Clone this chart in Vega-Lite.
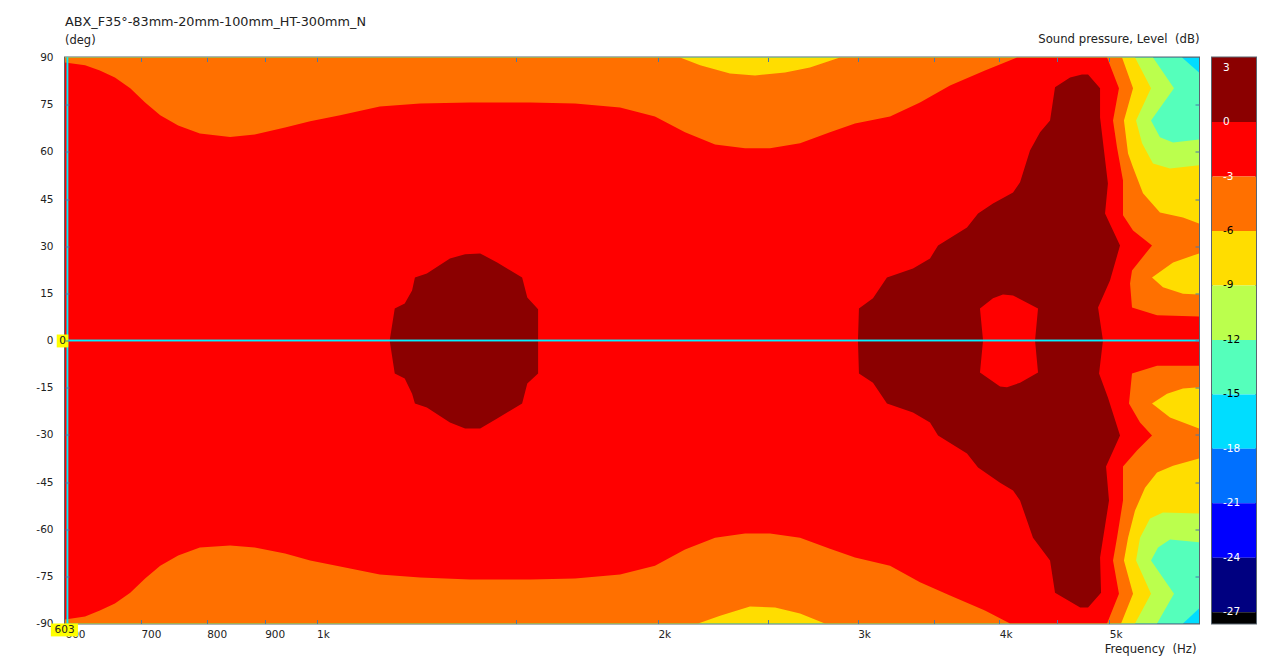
{"$schema":"https://vega.github.io/schema/vega-lite/v6.json","background":"white","padding":{"left":34,"top":14.5,"right":5,"bottom":5},"bounds":"flush","spacing":13,"config":{"view":{"stroke":"#5a6670","strokeWidth":2},"font":"DejaVu Sans","axis":{"labelFont":"DejaVu Sans","labelFontSize":10.5,"labelColor":"#222","titleFont":"DejaVu Sans","titleFontSize":11.7,"titleFontWeight":"normal","titleColor":"#222","grid":false,"domain":false,"tickColor":"#4a78a8"},"title":{"font":"DejaVu Sans","subtitleFont":"DejaVu Sans"}},
"datasets":{"poly":[
{"g":"p18","band":"-18","i":1,"f":600,"d":90},{"g":"p18","band":"-18","i":2,"f":6000,"d":90},{"g":"p18","band":"-18","i":3,"f":6000,"d":-90},{"g":"p18","band":"-18","i":4,"f":600,"d":-90},
{"g":"p15","band":"-15","i":1,"f":600,"d":90},{"g":"p15","band":"-15","i":2,"f":5797,"d":90},{"g":"p15","band":"-15","i":3,"f":6000,"d":85.2},{"g":"p15","band":"-15","i":4,"f":6000,"d":-85.2},{"g":"p15","band":"-15","i":5,"f":5808,"d":-90},{"g":"p15","band":"-15","i":6,"f":600,"d":-90},
{"g":"p12","band":"-12","i":1,"f":600,"d":90},{"g":"p12","band":"-12","i":2,"f":5465,"d":90},{"g":"p12","band":"-12","i":3,"f":5703,"d":80.2},{"g":"p12","band":"-12","i":4,"f":5443,"d":70},{"g":"p12","band":"-12","i":5,"f":5543,"d":64.6},{"g":"p12","band":"-12","i":6,"f":5692,"d":63},{"g":"p12","band":"-12","i":7,"f":6000,"d":63.9},{"g":"p12","band":"-12","i":8,"f":6000,"d":-64.2},{"g":"p12","band":"-12","i":9,"f":5657,"d":-63.3},{"g":"p12","band":"-12","i":10,"f":5521,"d":-65.8},{"g":"p12","band":"-12","i":11,"f":5443,"d":-70},{"g":"p12","band":"-12","i":12,"f":5703,"d":-80.5},{"g":"p12","band":"-12","i":13,"f":5510,"d":-90},{"g":"p12","band":"-12","i":14,"f":600,"d":-90},
{"g":"p9","band":"-9","i":1,"f":600,"d":90},{"g":"p9","band":"-9","i":2,"f":5269,"d":90},{"g":"p9","band":"-9","i":3,"f":5443,"d":80.2},{"g":"p9","band":"-9","i":4,"f":5280,"d":70},{"g":"p9","band":"-9","i":5,"f":5345,"d":62.7},{"g":"p9","band":"-9","i":6,"f":5465,"d":56.3},{"g":"p9","band":"-9","i":7,"f":5657,"d":54.7},{"g":"p9","band":"-9","i":8,"f":6000,"d":55.7},{"g":"p9","band":"-9","i":9,"f":6000,"d":-55},{"g":"p9","band":"-9","i":10,"f":5577,"d":-54.7},{"g":"p9","band":"-9","i":11,"f":5432,"d":-56.6},{"g":"p9","band":"-9","i":12,"f":5323,"d":-62.7},{"g":"p9","band":"-9","i":13,"f":5280,"d":-70},{"g":"p9","band":"-9","i":14,"f":5443,"d":-80.5},{"g":"p9","band":"-9","i":15,"f":5269,"d":-90},{"g":"p9","band":"-9","i":16,"f":600,"d":-90},
{"g":"p6","band":"-6","i":1,"f":600,"d":90},{"g":"p6","band":"-6","i":2,"f":2092,"d":90},{"g":"p6","band":"-6","i":3,"f":2179,"d":87.5},{"g":"p6","band":"-6","i":4,"f":2315,"d":84.9},{"g":"p6","band":"-6","i":5,"f":2436,"d":84.3},{"g":"p6","band":"-6","i":6,"f":2589,"d":85.2},{"g":"p6","band":"-6","i":7,"f":2723,"d":86.8},{"g":"p6","band":"-6","i":8,"f":2894,"d":90},{"g":"p6","band":"-6","i":9,"f":5132,"d":90},{"g":"p6","band":"-6","i":10,"f":5248,"d":80.2},{"g":"p6","band":"-6","i":11,"f":5152,"d":70},{"g":"p6","band":"-6","i":12,"f":5195,"d":59.5},{"g":"p6","band":"-6","i":13,"f":5248,"d":55},{"g":"p6","band":"-6","i":14,"f":5355,"d":46.8},{"g":"p6","band":"-6","i":15,"f":5543,"d":40.7},{"g":"p6","band":"-6","i":16,"f":5808,"d":39.1},{"g":"p6","band":"-6","i":17,"f":6000,"d":37.2},{"g":"p6","band":"-6","i":18,"f":6000,"d":27.7},{"g":"p6","band":"-6","i":19,"f":5692,"d":24.8},{"g":"p6","band":"-6","i":20,"f":5454,"d":20},{"g":"p6","band":"-6","i":21,"f":5577,"d":16.9},{"g":"p6","band":"-6","i":22,"f":5808,"d":14.9},{"g":"p6","band":"-6","i":23,"f":6000,"d":14.6},{"g":"p6","band":"-6","i":24,"f":6000,"d":-14.9},{"g":"p6","band":"-6","i":25,"f":5808,"d":-15.3},{"g":"p6","band":"-6","i":26,"f":5623,"d":-16.9},{"g":"p6","band":"-6","i":27,"f":5454,"d":-20},{"g":"p6","band":"-6","i":28,"f":5657,"d":-24.5},{"g":"p6","band":"-6","i":29,"f":6000,"d":-28},{"g":"p6","band":"-6","i":30,"f":6000,"d":-37.5},{"g":"p6","band":"-6","i":31,"f":5692,"d":-39.8},{"g":"p6","band":"-6","i":32,"f":5510,"d":-42},{"g":"p6","band":"-6","i":33,"f":5377,"d":-46.8},{"g":"p6","band":"-6","i":34,"f":5269,"d":-54.1},{"g":"p6","band":"-6","i":35,"f":5195,"d":-62.7},{"g":"p6","band":"-6","i":36,"f":5152,"d":-70},{"g":"p6","band":"-6","i":37,"f":5248,"d":-80.5},{"g":"p6","band":"-6","i":38,"f":5122,"d":-90},{"g":"p6","band":"-6","i":39,"f":2807,"d":-90},{"g":"p6","band":"-6","i":40,"f":2669,"d":-86.8},{"g":"p6","band":"-6","i":41,"f":2537,"d":-84.9},{"g":"p6","band":"-6","i":42,"f":2411,"d":-84.6},{"g":"p6","band":"-6","i":43,"f":2269,"d":-87.5},{"g":"p6","band":"-6","i":44,"f":2170,"d":-90},{"g":"p6","band":"-6","i":45,"f":600,"d":-90},
{"g":"p3","band":"-3","i":1,"f":600,"d":88.4},{"g":"p3","band":"-3","i":2,"f":625,"d":87.5},{"g":"p3","band":"-3","i":3,"f":644,"d":85.9},{"g":"p3","band":"-3","i":4,"f":664,"d":83.6},{"g":"p3","band":"-3","i":5,"f":685,"d":80.2},{"g":"p3","band":"-3","i":6,"f":706,"d":75.7},{"g":"p3","band":"-3","i":7,"f":728,"d":71.6},{"g":"p3","band":"-3","i":8,"f":755,"d":68.4},{"g":"p3","band":"-3","i":9,"f":789,"d":65.8},{"g":"p3","band":"-3","i":10,"f":839,"d":64.7},{"g":"p3","band":"-3","i":11,"f":882,"d":65.5},{"g":"p3","band":"-3","i":12,"f":938,"d":67.7},{"g":"p3","band":"-3","i":13,"f":987,"d":69.7},{"g":"p3","band":"-3","i":14,"f":1049,"d":71.6},{"g":"p3","band":"-3","i":15,"f":1137,"d":74.4},{"g":"p3","band":"-3","i":16,"f":1234,"d":75.4},{"g":"p3","band":"-3","i":17,"f":1366,"d":75.7},{"g":"p3","band":"-3","i":18,"f":1543,"d":75.7},{"g":"p3","band":"-3","i":19,"f":1690,"d":75.4},{"g":"p3","band":"-3","i":20,"f":1852,"d":74.1},{"g":"p3","band":"-3","i":21,"f":1988,"d":71.2},{"g":"p3","band":"-3","i":22,"f":2113,"d":66.2},{"g":"p3","band":"-3","i":23,"f":2246,"d":62.3},{"g":"p3","band":"-3","i":24,"f":2387,"d":61.1},{"g":"p3","band":"-3","i":25,"f":2511,"d":61.1},{"g":"p3","band":"-3","i":26,"f":2669,"d":62.7},{"g":"p3","band":"-3","i":27,"f":2836,"d":66.2},{"g":"p3","band":"-3","i":28,"f":2984,"d":69},{"g":"p3","band":"-3","i":29,"f":3204,"d":71.2},{"g":"p3","band":"-3","i":30,"f":3405,"d":75.7},{"g":"p3","band":"-3","i":31,"f":3619,"d":81.1},{"g":"p3","band":"-3","i":32,"f":3885,"d":85.9},{"g":"p3","band":"-3","i":33,"f":4147,"d":90},{"g":"p3","band":"-3","i":34,"f":4978,"d":90},{"g":"p3","band":"-3","i":35,"f":5100,"d":80.2},{"g":"p3","band":"-3","i":36,"f":5039,"d":70},{"g":"p3","band":"-3","i":37,"f":5080,"d":61.4},{"g":"p3","band":"-3","i":38,"f":5142,"d":50.9},{"g":"p3","band":"-3","i":39,"f":5142,"d":39.8},{"g":"p3","band":"-3","i":40,"f":5248,"d":35},{"g":"p3","band":"-3","i":41,"f":5454,"d":30.2},{"g":"p3","band":"-3","i":42,"f":5237,"d":22.3},{"g":"p3","band":"-3","i":43,"f":5216,"d":18.1},{"g":"p3","band":"-3","i":44,"f":5237,"d":10.5},{"g":"p3","band":"-3","i":45,"f":5510,"d":8},{"g":"p3","band":"-3","i":46,"f":6000,"d":7.6},{"g":"p3","band":"-3","i":47,"f":6000,"d":-8},{"g":"p3","band":"-3","i":48,"f":5510,"d":-8},{"g":"p3","band":"-3","i":49,"f":5237,"d":-10.5},{"g":"p3","band":"-3","i":50,"f":5205,"d":-20},{"g":"p3","band":"-3","i":51,"f":5323,"d":-26.1},{"g":"p3","band":"-3","i":52,"f":5454,"d":-30.2},{"g":"p3","band":"-3","i":53,"f":5290,"d":-35},{"g":"p3","band":"-3","i":54,"f":5142,"d":-40.1},{"g":"p3","band":"-3","i":55,"f":5142,"d":-50.9},{"g":"p3","band":"-3","i":56,"f":5080,"d":-62.7},{"g":"p3","band":"-3","i":57,"f":5039,"d":-70},{"g":"p3","band":"-3","i":58,"f":5100,"d":-80.5},{"g":"p3","band":"-3","i":59,"f":4978,"d":-90},{"g":"p3","band":"-3","i":60,"f":4088,"d":-90},{"g":"p3","band":"-3","i":61,"f":3885,"d":-85.9},{"g":"p3","band":"-3","i":62,"f":3619,"d":-81.1},{"g":"p3","band":"-3","i":63,"f":3405,"d":-76.9},{"g":"p3","band":"-3","i":64,"f":3204,"d":-71.6},{"g":"p3","band":"-3","i":65,"f":2984,"d":-69},{"g":"p3","band":"-3","i":66,"f":2836,"d":-66.2},{"g":"p3","band":"-3","i":67,"f":2669,"d":-62.7},{"g":"p3","band":"-3","i":68,"f":2511,"d":-61.4},{"g":"p3","band":"-3","i":69,"f":2387,"d":-61.4},{"g":"p3","band":"-3","i":70,"f":2246,"d":-62.7},{"g":"p3","band":"-3","i":71,"f":2113,"d":-66.5},{"g":"p3","band":"-3","i":72,"f":1988,"d":-71.6},{"g":"p3","band":"-3","i":73,"f":1852,"d":-74.4},{"g":"p3","band":"-3","i":74,"f":1690,"d":-75.7},{"g":"p3","band":"-3","i":75,"f":1543,"d":-76},{"g":"p3","band":"-3","i":76,"f":1366,"d":-76},{"g":"p3","band":"-3","i":77,"f":1234,"d":-75.4},{"g":"p3","band":"-3","i":78,"f":1137,"d":-74.4},{"g":"p3","band":"-3","i":79,"f":1049,"d":-71.9},{"g":"p3","band":"-3","i":80,"f":987,"d":-70},{"g":"p3","band":"-3","i":81,"f":938,"d":-67.7},{"g":"p3","band":"-3","i":82,"f":882,"d":-65.8},{"g":"p3","band":"-3","i":83,"f":839,"d":-65.2},{"g":"p3","band":"-3","i":84,"f":789,"d":-65.8},{"g":"p3","band":"-3","i":85,"f":755,"d":-68.4},{"g":"p3","band":"-3","i":86,"f":728,"d":-71.6},{"g":"p3","band":"-3","i":87,"f":706,"d":-75.7},{"g":"p3","band":"-3","i":88,"f":685,"d":-80.2},{"g":"p3","band":"-3","i":89,"f":664,"d":-83.6},{"g":"p3","band":"-3","i":90,"f":644,"d":-85.9},{"g":"p3","band":"-3","i":91,"f":625,"d":-87.8},{"g":"p3","band":"-3","i":92,"f":600,"d":-88.7},
{"g":"a0","band":"0","i":1,"f":1160,"d":0},{"g":"a0","band":"0","i":2,"f":1172,"d":10.2},{"g":"a0","band":"0","i":3,"f":1196,"d":11.8},{"g":"a0","band":"0","i":4,"f":1214,"d":15.9},{"g":"a0","band":"0","i":5,"f":1221,"d":20},{"g":"a0","band":"0","i":6,"f":1251,"d":21.3},{"g":"a0","band":"0","i":7,"f":1311,"d":26.1},{"g":"a0","band":"0","i":8,"f":1352,"d":27.4},{"g":"a0","band":"0","i":9,"f":1394,"d":27.7},{"g":"a0","band":"0","i":10,"f":1443,"d":24.8},{"g":"a0","band":"0","i":11,"f":1518,"d":20},{"g":"a0","band":"0","i":12,"f":1534,"d":13.7},{"g":"a0","band":"0","i":13,"f":1568,"d":9.9},{"g":"a0","band":"0","i":14,"f":1568,"d":-10.5},{"g":"a0","band":"0","i":15,"f":1534,"d":-13.7},{"g":"a0","band":"0","i":16,"f":1518,"d":-20},{"g":"a0","band":"0","i":17,"f":1443,"d":-24.8},{"g":"a0","band":"0","i":18,"f":1394,"d":-28},{"g":"a0","band":"0","i":19,"f":1352,"d":-28},{"g":"a0","band":"0","i":20,"f":1311,"d":-26.1},{"g":"a0","band":"0","i":21,"f":1251,"d":-21.3},{"g":"a0","band":"0","i":22,"f":1221,"d":-20},{"g":"a0","band":"0","i":23,"f":1214,"d":-16.9},{"g":"a0","band":"0","i":24,"f":1196,"d":-12.1},{"g":"a0","band":"0","i":25,"f":1172,"d":-10.5},
{"g":"b0","band":"0","i":1,"f":3002,"d":0},{"g":"b0","band":"0","i":2,"f":3008,"d":10.2},{"g":"b0","band":"0","i":3,"f":3095,"d":13.4},{"g":"b0","band":"0","i":4,"f":3184,"d":20},{"g":"b0","band":"0","i":5,"f":3357,"d":22.9},{"g":"b0","band":"0","i":6,"f":3475,"d":26.1},{"g":"b0","band":"0","i":7,"f":3532,"d":30.2},{"g":"b0","band":"0","i":8,"f":3746,"d":35.9},{"g":"b0","band":"0","i":9,"f":3831,"d":40.4},{"g":"b0","band":"0","i":10,"f":3949,"d":43.6},{"g":"b0","band":"0","i":11,"f":4113,"d":47.1},{"g":"b0","band":"0","i":12,"f":4172,"d":50.3},{"g":"b0","band":"0","i":13,"f":4257,"d":60.4},{"g":"b0","band":"0","i":14,"f":4345,"d":66.2},{"g":"b0","band":"0","i":15,"f":4434,"d":70},{"g":"b0","band":"0","i":16,"f":4479,"d":80.5},{"g":"b0","band":"0","i":17,"f":4618,"d":83.6},{"g":"b0","band":"0","i":18,"f":4731,"d":84.6},{"g":"b0","band":"0","i":19,"f":4790,"d":84.6},{"g":"b0","band":"0","i":20,"f":4908,"d":80.2},{"g":"b0","band":"0","i":21,"f":4908,"d":70.9},{"g":"b0","band":"0","i":22,"f":4987,"d":49.9},{"g":"b0","band":"0","i":23,"f":4958,"d":40.4},{"g":"b0","band":"0","i":24,"f":5111,"d":30.2},{"g":"b0","band":"0","i":25,"f":5008,"d":19.1},{"g":"b0","band":"0","i":26,"f":4888,"d":10.5},{"g":"b0","band":"0","i":27,"f":4937,"d":0},{"g":"b0","band":"0","i":28,"f":4898,"d":-10.5},{"g":"b0","band":"0","i":29,"f":4987,"d":-18.1},{"g":"b0","band":"0","i":30,"f":5111,"d":-30.2},{"g":"b0","band":"0","i":31,"f":4968,"d":-40.1},{"g":"b0","band":"0","i":32,"f":4998,"d":-50.9},{"g":"b0","band":"0","i":33,"f":4908,"d":-69},{"g":"b0","band":"0","i":34,"f":4918,"d":-80.2},{"g":"b0","band":"0","i":35,"f":4790,"d":-84.9},{"g":"b0","band":"0","i":36,"f":4714,"d":-84.9},{"g":"b0","band":"0","i":37,"f":4479,"d":-80.2},{"g":"b0","band":"0","i":38,"f":4434,"d":-70},{"g":"b0","band":"0","i":39,"f":4283,"d":-62.7},{"g":"b0","band":"0","i":40,"f":4172,"d":-50.9},{"g":"b0","band":"0","i":41,"f":4113,"d":-47.7},{"g":"b0","band":"0","i":42,"f":4006,"d":-45.2},{"g":"b0","band":"0","i":43,"f":3831,"d":-40.4},{"g":"b0","band":"0","i":44,"f":3746,"d":-35.9},{"g":"b0","band":"0","i":45,"f":3532,"d":-30.2},{"g":"b0","band":"0","i":46,"f":3475,"d":-26.1},{"g":"b0","band":"0","i":47,"f":3357,"d":-22.9},{"g":"b0","band":"0","i":48,"f":3184,"d":-20},{"g":"b0","band":"0","i":49,"f":3095,"d":-13.4},{"g":"b0","band":"0","i":50,"f":3008,"d":-10.5},
{"g":"hole","band":"-3","i":1,"f":3846,"d":10.2},{"g":"hole","band":"-3","i":2,"f":3949,"d":13.4},{"g":"hole","band":"-3","i":3,"f":4030,"d":14.6},{"g":"hole","band":"-3","i":4,"f":4113,"d":14.3},{"g":"hole","band":"-3","i":5,"f":4327,"d":10.2},{"g":"hole","band":"-3","i":6,"f":4301,"d":0},{"g":"hole","band":"-3","i":7,"f":4327,"d":-10.2},{"g":"hole","band":"-3","i":8,"f":4172,"d":-13.4},{"g":"hole","band":"-3","i":9,"f":4063,"d":-14.9},{"g":"hole","band":"-3","i":10,"f":4006,"d":-14.6},{"g":"hole","band":"-3","i":11,"f":3846,"d":-10.2},{"g":"hole","band":"-3","i":12,"f":3870,"d":0}
],
"bands":[{"band":"0","hi":3.56,"lo":0},{"band":"-3","hi":0,"lo":-3},{"band":"-6","hi":-3,"lo":-6},{"band":"-9","hi":-6,"lo":-9},{"band":"-12","hi":-9,"lo":-12},{"band":"-15","hi":-12,"lo":-15},{"band":"-18","hi":-15,"lo":-18},{"band":"-21","hi":-18,"lo":-21},{"band":"-24","hi":-21,"lo":-24},{"band":"-27","hi":-24,"lo":-27},{"band":"-30","hi":-27,"lo":-27.62}],
"barlabels":[{"v":3,"t":"3"},{"v":0,"t":"0"},{"v":-3,"t":"-3"},{"v":-6,"t":"-6"},{"v":-9,"t":"-9"},{"v":-12,"t":"-12"},{"v":-15,"t":"-15"},{"v":-18,"t":"-18"},{"v":-21,"t":"-21"},{"v":-24,"t":"-24"},{"v":-27,"t":"-27"}]},
"hconcat":[
{"width":1134,"height":566,
"title":{"text":"ABX_F35°-83mm-20mm-100mm_HT-300mm_N","subtitle":"(deg)","anchor":"start","frame":"group","fontSize":12.8,"fontWeight":"normal","color":"#222","subtitleFontSize":11.5,"subtitleColor":"#222","subtitlePadding":6,"offset":-13.5},
"layer":[
{"data":{"name":"poly"},"mark":{"type":"line","strokeWidth":0,"clip":true},
"encoding":{"x":{"field":"f","type":"quantitative","scale":{"type":"log","domain":[600,6000],"nice":false},"axis":{"orient":"bottom","ticks":false,"values":[600,700,800,900,1000,2000,3000,4000,5000],"labelExpr":"datum.value>=1000?(datum.value/1000)+'k':datum.value+''","labelAlign":"left","labelPadding":6,"title":"Frequency \u00a0(Hz)","titleAnchor":"end","titleAlign":"right","titlePadding":3,"titleX":1131,"labelFlush":false,"labelOverlap":false}},
"y":{"field":"d","type":"quantitative","scale":{"domain":[-90,90],"nice":false},"axis":{"orient":"left","ticks":false,"values":[-90,-75,-60,-45,-30,-15,0,15,30,45,60,75,90],"labelExpr":"datum.value+''","labelPadding":12,"title":null}},
"fill":{"field":"band","type":"nominal","legend":null,"scale":{"domain":["0","-3","-6","-9","-12","-15","-18","-21","-24","-27","-30"],"range":["#8B0000","#FF0000","#FF7000","#FFDD00","#BBFF4D","#55FFBB","#00DDFF","#0070FF","#0000FF","#000080","#000000"]}},
"detail":{"field":"g"},"order":{"field":"i","type":"quantitative"}}},
{"data":{"values":[{"f":603,"d1":90,"d2":-90}]},"mark":{"type":"rule","color":"#00F0FF","strokeWidth":1.5},
"encoding":{"x":{"field":"f","type":"quantitative","axis":{"orient":"top","zindex":1,"values":[700,800,900,1000,1500,2000,2500,3000,3500,4000,4500,5000],"labels":false,"tickSize":-4,"title":"Sound pressure, Level \u00a0(dB)","titleAnchor":"end","titleAlign":"right","titlePadding":13}},"y":{"field":"d1","type":"quantitative","axis":null},"y2":{"field":"d2"}}},
{"data":{"values":[{"f":603,"d1":90,"d2":-90}]},"mark":{"type":"rule","color":"#00F0FF","strokeWidth":1.5},
"encoding":{"x":{"field":"f","type":"quantitative","axis":{"orient":"bottom","zindex":1,"values":[700,800,900,1000,1500,2000,2500,3000,3500,4000,4500,5000],"labels":false,"tickSize":-4,"title":null}},"y":{"field":"d1","type":"quantitative","axis":null},"y2":{"field":"d2"}}},
{"data":{"values":[{"d":0,"f1":600,"f2":6000}]},"mark":{"type":"rule","color":"#00F0FF","strokeWidth":1.5},
"encoding":{"y":{"field":"d","type":"quantitative","axis":{"orient":"right","zindex":1,"values":[-75,-60,-45,-30,-15,0,15,30,45,60,75],"labels":false,"tickSize":-4,"title":null}},"x":{"field":"f1","type":"quantitative","axis":null},"x2":{"field":"f2"}}},
{"data":{"values":[{"d":0,"f1":600,"f2":6000}]},"mark":{"type":"rule","color":"#00F0FF","strokeWidth":1.5},
"encoding":{"y":{"field":"d","type":"quantitative","axis":{"orient":"left","zindex":1,"values":[-75,-60,-45,-30,-15,0,15,30,45,60,75],"labels":false,"tickSize":-4,"title":null}},"x":{"field":"f1","type":"quantitative","axis":null},"x2":{"field":"f2"}}},
{"data":{"values":[{"f1":590,"f2":604,"d1":1.9,"d2":-2.2},{"f1":583,"f2":616,"d1":-90,"d2":-94.1}]},"mark":{"type":"rect","color":"#FFFF00","clip":false},
"encoding":{"x":{"field":"f1","type":"quantitative","axis":null},"x2":{"field":"f2"},"y":{"field":"d1","type":"quantitative","axis":null},"y2":{"field":"d2"}}},
{"data":{"values":[{"f":597,"d":0,"t":"0"},{"f":599.5,"d":-92,"t":"603"}]},"mark":{"type":"text","fontSize":10.5,"color":"#222","clip":false},
"encoding":{"x":{"field":"f","type":"quantitative","axis":null},"y":{"field":"d","type":"quantitative","axis":null},"text":{"field":"t"}}}
]},
{"width":44,"height":566,
"layer":[
{"data":{"name":"bands"},"mark":{"type":"rect"},
"encoding":{"y":{"field":"hi","type":"quantitative","scale":{"domain":[-27.62,3.56],"nice":false},"axis":{"orient":"left","zindex":1,"values":[3,0,-3,-6,-9,-12,-15,-18,-21,-24,-27],"labels":false,"tickSize":-4,"title":null}},"y2":{"field":"lo"},
"fill":{"field":"band","type":"nominal","legend":null,"scale":{"domain":["0","-3","-6","-9","-12","-15","-18","-21","-24","-27","-30"],"range":["#8B0000","#FF0000","#FF7000","#FFDD00","#BBFF4D","#55FFBB","#00DDFF","#0070FF","#0000FF","#000080","#000000"]}}}},
{"data":{"name":"barlabels"},"mark":{"type":"text","align":"left","fontSize":10.5},
"encoding":{"x":{"datum":0.25,"type":"quantitative","scale":{"domain":[0,1]},"axis":null},"y":{"field":"v","type":"quantitative","axis":null},"text":{"field":"t","type":"nominal"},"color":{"condition":{"test":"datum.v>=-3||datum.v<=-18","value":"white"},"value":"black"}}}
]}
]}
